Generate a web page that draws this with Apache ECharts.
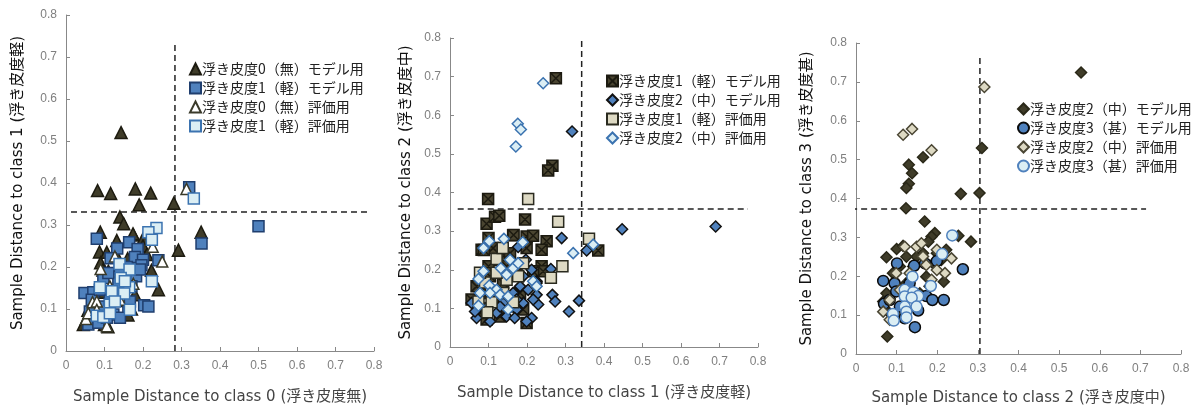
<!DOCTYPE html>
<html>
<head>
<meta charset="utf-8">
<script src="https://cdn.jsdelivr.net/npm/echarts@6/dist/echarts.min.js"></script>
<style>
html,body{margin:0;padding:0;background:#fff;}
.c{position:absolute;top:0;height:405px;}
</style>
</head>
<body>
<div id="c1" class="c" style="left:0;width:390px;"></div>
<div id="c2" class="c" style="left:380px;width:410px;"></div>
<div id="c3" class="c" style="left:790px;width:408px;"></div>
<script>
// 軸の目盛り
var ticks = [0, 0.1, 0.2, 0.3, 0.4, 0.5, 0.6, 0.7, 0.8];

// パネル1: class0 / class1
var p1Names = ['浮き皮度0（無）モデル用', '浮き皮度1（軽）モデル用', '浮き皮度0（無）評価用', '浮き皮度1（軽）評価用'];
var p1Model0 = [[0.143,0.52],[0.082,0.382],[0.116,0.375],[0.18,0.386],[0.22,0.376],[0.19,0.348],[0.28,0.352],
  [0.140,0.319],[0.150,0.303],[0.089,0.283],[0.175,0.276],[0.132,0.263],[0.20,0.267],[0.292,0.24],[0.351,0.283],
  [0.087,0.236],[0.106,0.235],[0.222,0.192],[0.24,0.146],[0.179,0.134],[0.045,0.063],[0.10,0.063],
  [0.09,0.21],[0.11,0.19],[0.13,0.23],[0.15,0.17],[0.07,0.12],[0.12,0.09],[0.17,0.10],[0.06,0.08],[0.14,0.15],
  [0.20,0.25],[0.16,0.22],[0.10,0.14],[0.19,0.21],[0.21,0.23],[0.08,0.10],[0.13,0.12],[0.096,0.193],
  [0.054,0.078],[0.109,0.058],[0.161,0.086],[0.075,0.117],[0.057,0.097],[0.174,0.279]];
var p1Model1 = [[0.32,0.39],[0.50,0.297],[0.352,0.256],[0.08,0.267],[0.133,0.244],[0.164,0.259],[0.186,0.243],
  [0.179,0.224],[0.20,0.217],[0.196,0.204],[0.24,0.216],[0.116,0.221],[0.097,0.174],[0.182,0.178],[0.048,0.138],
  [0.071,0.140],[0.132,0.138],[0.203,0.109],[0.214,0.106],[0.058,0.063],[0.084,0.067],[0.123,0.087],[0.162,0.098],
  [0.166,0.118],[0.088,0.106],[0.062,0.094],[0.158,0.20],[0.136,0.162],[0.114,0.122],[0.14,0.079],[0.067,0.122],
  [0.106,0.079],[0.14,0.194],[0.11,0.186],[0.17,0.154],[0.192,0.194],[0.088,0.146]];
var p1Eval0 = [[0.313,0.386],[0.25,0.213],[0.225,0.248],[0.09,0.195],[0.069,0.116],[0.052,0.076],[0.106,0.059],
  [0.08,0.118],[0.127,0.225],[0.175,0.16],[0.114,0.154],[0.058,0.09],[0.08,0.098],[0.14,0.122]];
var p1Eval1 = [[0.332,0.363],[0.235,0.293],[0.214,0.283],[0.223,0.265],[0.223,0.166],[0.139,0.207],[0.165,0.194],
  [0.142,0.174],[0.164,0.152],[0.088,0.152],[0.119,0.142],[0.151,0.137],[0.114,0.110],[0.127,0.118],[0.166,0.098],
  [0.08,0.084],[0.097,0.081],[0.114,0.09],[0.153,0.166]];
var p1CutX = [0.283, 0, 0.733];      // 縦の破線: x, y下, y上
var p1CutY = [0.331, 0.013, 0.784];  // 横の破線: y, x左, x右

// パネル2: class1 / class2
var p2Names = ['浮き皮度1（軽）モデル用', '浮き皮度2（中）モデル用', '浮き皮度1（軽）評価用', '浮き皮度2（中）評価用'];
var p2Model1 = [[0.275,0.696],[0.266,0.469],[0.255,0.457],[0.099,0.383],[0.095,0.319],[0.117,0.337],[0.128,0.34],
  [0.195,0.33],[0.164,0.289],[0.199,0.286],[0.216,0.288],[0.251,0.274],[0.238,0.252],[0.199,0.256],[0.385,0.25],
  [0.238,0.209],[0.242,0.196],[0.10,0.282],[0.082,0.252],[0.112,0.256],[0.199,0.062],[0.095,0.071],[0.216,0.196],
  [0.056,0.123],[0.078,0.14],[0.10,0.209],[0.13,0.226],[0.156,0.243],[0.087,0.183],[0.069,0.157],[0.112,0.123],
  [0.138,0.166],[0.173,0.209],[0.182,0.14],[0.156,0.105],[0.13,0.079],[0.078,0.088],[0.19,0.097],[0.147,0.209],
  [0.104,0.183],[0.165,0.29],[0.088,0.251]];
var p2Model2 = [[0.317,0.558],[0.447,0.305],[0.69,0.312],[0.29,0.282],[0.355,0.25],[0.177,0.259],[0.197,0.226],
  [0.212,0.20],[0.262,0.202],[0.225,0.17],[0.266,0.135],[0.273,0.118],[0.335,0.12],[0.309,0.092],[0.212,0.075],
  [0.199,0.066],[0.104,0.066],[0.069,0.075],[0.056,0.114],[0.121,0.088],[0.147,0.079],[0.173,0.097],[0.19,0.114],
  [0.225,0.135],[0.229,0.11],[0.182,0.157],[0.203,0.148],[0.164,0.14],[0.138,0.114],[0.091,0.101],[0.19,0.183],
  [0.216,0.123],[0.173,0.123],[0.13,0.105],[0.065,0.092],[0.168,0.075],[0.225,0.166]];
var p2Eval1 = [[0.203,0.383],[0.281,0.324],[0.361,0.28],[0.292,0.209],[0.262,0.179],[0.19,0.217],[0.121,0.228],
  [0.137,0.256],[0.091,0.167],[0.108,0.116],[0.097,0.09],[0.164,0.116],[0.147,0.174],[0.074,0.118],[0.138,0.14],
  [0.177,0.183],[0.121,0.192],[0.078,0.192]];
var p2Eval2 = [[0.242,0.683],[0.176,0.578],[0.184,0.563],[0.171,0.519],[0.32,0.243],[0.372,0.265],[0.14,0.28],
  [0.102,0.274],[0.087,0.256],[0.189,0.271],[0.132,0.204],[0.164,0.204],[0.147,0.187],[0.087,0.196],[0.074,0.176],
  [0.102,0.159],[0.121,0.148],[0.078,0.14],[0.104,0.14],[0.13,0.135],[0.151,0.131],[0.151,0.097],[0.074,0.107],
  [0.216,0.17],[0.225,0.157],[0.177,0.217],[0.156,0.226]];
var p2CutX = [0.342, 0, 0.8];
var p2CutY = [0.357, 0.02, 0.774];

// パネル3: class2 / class3
var p3Names = ['浮き皮度2（中）モデル用', '浮き皮度3（甚）モデル用', '浮き皮度2（中）評価用', '浮き皮度3（甚）評価用'];
var p3Model2 = [[0.554,0.724],[0.31,0.53],[0.304,0.414],[0.258,0.412],[0.165,0.506],[0.13,0.487],[0.138,0.465],
  [0.13,0.438],[0.124,0.427],[0.123,0.375],[0.169,0.341],[0.194,0.311],[0.186,0.302],[0.252,0.304],[0.283,0.289],
  [0.178,0.289],[0.075,0.249],[0.10,0.27],[0.116,0.278],[0.077,0.045],[0.216,0.186],[0.19,0.233],[0.165,0.259],
  [0.141,0.225],[0.108,0.225],[0.091,0.208],[0.075,0.156],[0.067,0.135],[0.083,0.105],[0.116,0.174],[0.132,0.191],
  [0.157,0.156],[0.149,0.122],[0.108,0.113],[0.091,0.088],[0.173,0.199],[0.199,0.259],[0.222,0.268],[0.149,0.25],
  [0.124,0.25],[0.181,0.174],[0.21,0.242]];
var p3Model3 = [[0.101,0.233],[0.143,0.227],[0.199,0.239],[0.263,0.218],[0.067,0.188],[0.095,0.182],[0.173,0.149],
  [0.188,0.139],[0.216,0.139],[0.069,0.129],[0.153,0.112],[0.145,0.069],[0.091,0.10],[0.17,0.233],[0.124,0.156],
  [0.108,0.122],[0.083,0.139],[0.132,0.182],[0.099,0.161],[0.12,0.092]];
var p3Eval2 = [[0.316,0.687],[0.116,0.564],[0.138,0.579],[0.186,0.524],[0.12,0.276],[0.149,0.276],[0.161,0.285],
  [0.235,0.246],[0.219,0.208],[0.199,0.216],[0.173,0.229],[0.067,0.109],[0.083,0.139],[0.108,0.165],[0.132,0.208],
  [0.165,0.251],[0.099,0.208],[0.199,0.268],[0.083,0.088],[0.186,0.191]];
var p3Eval3 = [[0.237,0.305],[0.212,0.257],[0.139,0.199],[0.184,0.175],[0.12,0.165],[0.141,0.159],[0.153,0.149],
  [0.12,0.148],[0.137,0.145],[0.12,0.122],[0.124,0.109],[0.124,0.094],[0.091,0.103],[0.093,0.086],[0.149,0.122]];
var p3CutX = [0.305, 0, 0.764];
var p3CutY = [0.373, -0.012, 0.714];

var xSquare = 'path://M0,0L10,0L10,10L0,10ZM0,0L10,10M10,0L0,10';
var labelFont = '"Liberation Sans", "Noto Sans CJK JP", sans-serif';
var titleFont = '"DejaVu Sans", "Noto Sans CJK JP", sans-serif';
var jpFont = '"Noto Sans CJK JP", sans-serif';

function axis(name, gap, color) {
  return {
    type: 'value', min: 0, max: 0.8, interval: 0.1,
    name: name, nameLocation: 'middle', nameGap: gap,
    nameTextStyle: { color: color, fontSize: 15, fontFamily: titleFont },
    axisLine: { show: true, lineStyle: { color: '#888' } },
    axisTick: { show: true, inside: true, length: 4, lineStyle: { color: '#888' } },
    axisLabel: { color: '#7f7f7f', fontSize: 12, margin: 9, fontFamily: labelFont,
      formatter: function (v) { return String(Math.round(v * 10) / 10); } },
    splitLine: { show: false }
  };
}

function pts(name, data, symbol, size, fill, border) {
  return {
    name: name, type: 'scatter', data: data, symbol: symbol, symbolSize: size, z: 3,
    itemStyle: { color: fill, borderColor: border, borderWidth: 1.5, opacity: 1 }
  };
}

function cuts(cx, cy) {
  var st = { color: '#222', width: 1.5, type: [6, 4] };
  return [
    { type: 'line', data: [[cx[0], cx[1]], [cx[0], cx[2]]], symbol: 'none', lineStyle: st, z: 2, silent: true },
    { type: 'line', data: [[cy[1], cy[0]], [cy[2], cy[0]]], symbol: 'none', lineStyle: st, z: 2, silent: true }
  ];
}

function build(id, g, xName, yName, xGap, yGap, leg, names, series) {
  var chart = echarts.init(document.getElementById(id));
  g.outerBoundsMode = 'none';
  g.containLabel = false;
  chart.setOption({
    animation: false,
    grid: g,
    xAxis: axis(xName, xGap, '#444'),
    yAxis: axis(yName, yGap, '#111'),
    legend: {
      data: names, orient: 'vertical', left: leg[0], top: leg[1], itemGap: leg[2],
      itemWidth: 11, itemHeight: 11,
      textStyle: { color: '#222', fontSize: 14, fontFamily: jpFont, padding: [0, 0, 0, -4] }
    },
    series: series
  });
}

build('c1', { left: 66, top: 15, width: 308, height: 336 },
  'Sample Distance to class 0 (浮き皮度無)', 'Sample Distance to class 1 (浮き皮度軽)', 39, 40,
  [184, 57, 5], p1Names,
  [pts(p1Names[0], p1Model0, 'triangle', 12, '#3f3c29', '#1d1b10'),
   pts(p1Names[1], p1Model1, 'rect', 11, '#4f81bd', '#1f3e6e'),
   pts(p1Names[2], p1Eval0, 'triangle', 11, '#ffffff', '#3a3a2a'),
   pts(p1Names[3], p1Eval1, 'rect', 11, '#dbeef4', '#3b73b0')].concat(cuts(p1CutX, p1CutY)));

build('c2', { left: 70, top: 38, width: 308, height: 309 },
  'Sample Distance to class 1 (浮き皮度軽)', 'Sample Distance to class 2 (浮き皮度中)', 39, 32,
  [221, 69, 5], p2Names,
  [pts(p2Names[0], p2Model1, xSquare, 11, '#4a4531', '#1c1a10'),
   pts(p2Names[1], p2Model2, 'diamond', 11, '#4f81bd', '#111111'),
   pts(p2Names[2], p2Eval1, 'rect', 11, '#ddd9c3', '#2a2a1f'),
   pts(p2Names[3], p2Eval2, 'diamond', 11, '#dbeef4', '#3b73b0')].concat(cuts(p2CutX, p2CutY)));

build('c3', { left: 66, top: 43, width: 325, height: 311 },
  'Sample Distance to class 2 (浮き皮度中)', 'Sample Distance to class 3 (浮き皮度甚)', 37, 41,
  [222, 97, 5], p3Names,
  [pts(p3Names[0], p3Model2, 'diamond', 11, '#3f3c29', '#2a2818'),
   pts(p3Names[1], p3Model3, 'circle', 11, '#4f81bd', '#0a0a0a'),
   pts(p3Names[2], p3Eval2, 'diamond', 11, '#ddd9c3', '#4a4634'),
   pts(p3Names[3], p3Eval3, 'circle', 11, '#dbeef4', '#4f81bd')].concat(cuts(p3CutX, p3CutY)));
</script>
</body>
</html>
